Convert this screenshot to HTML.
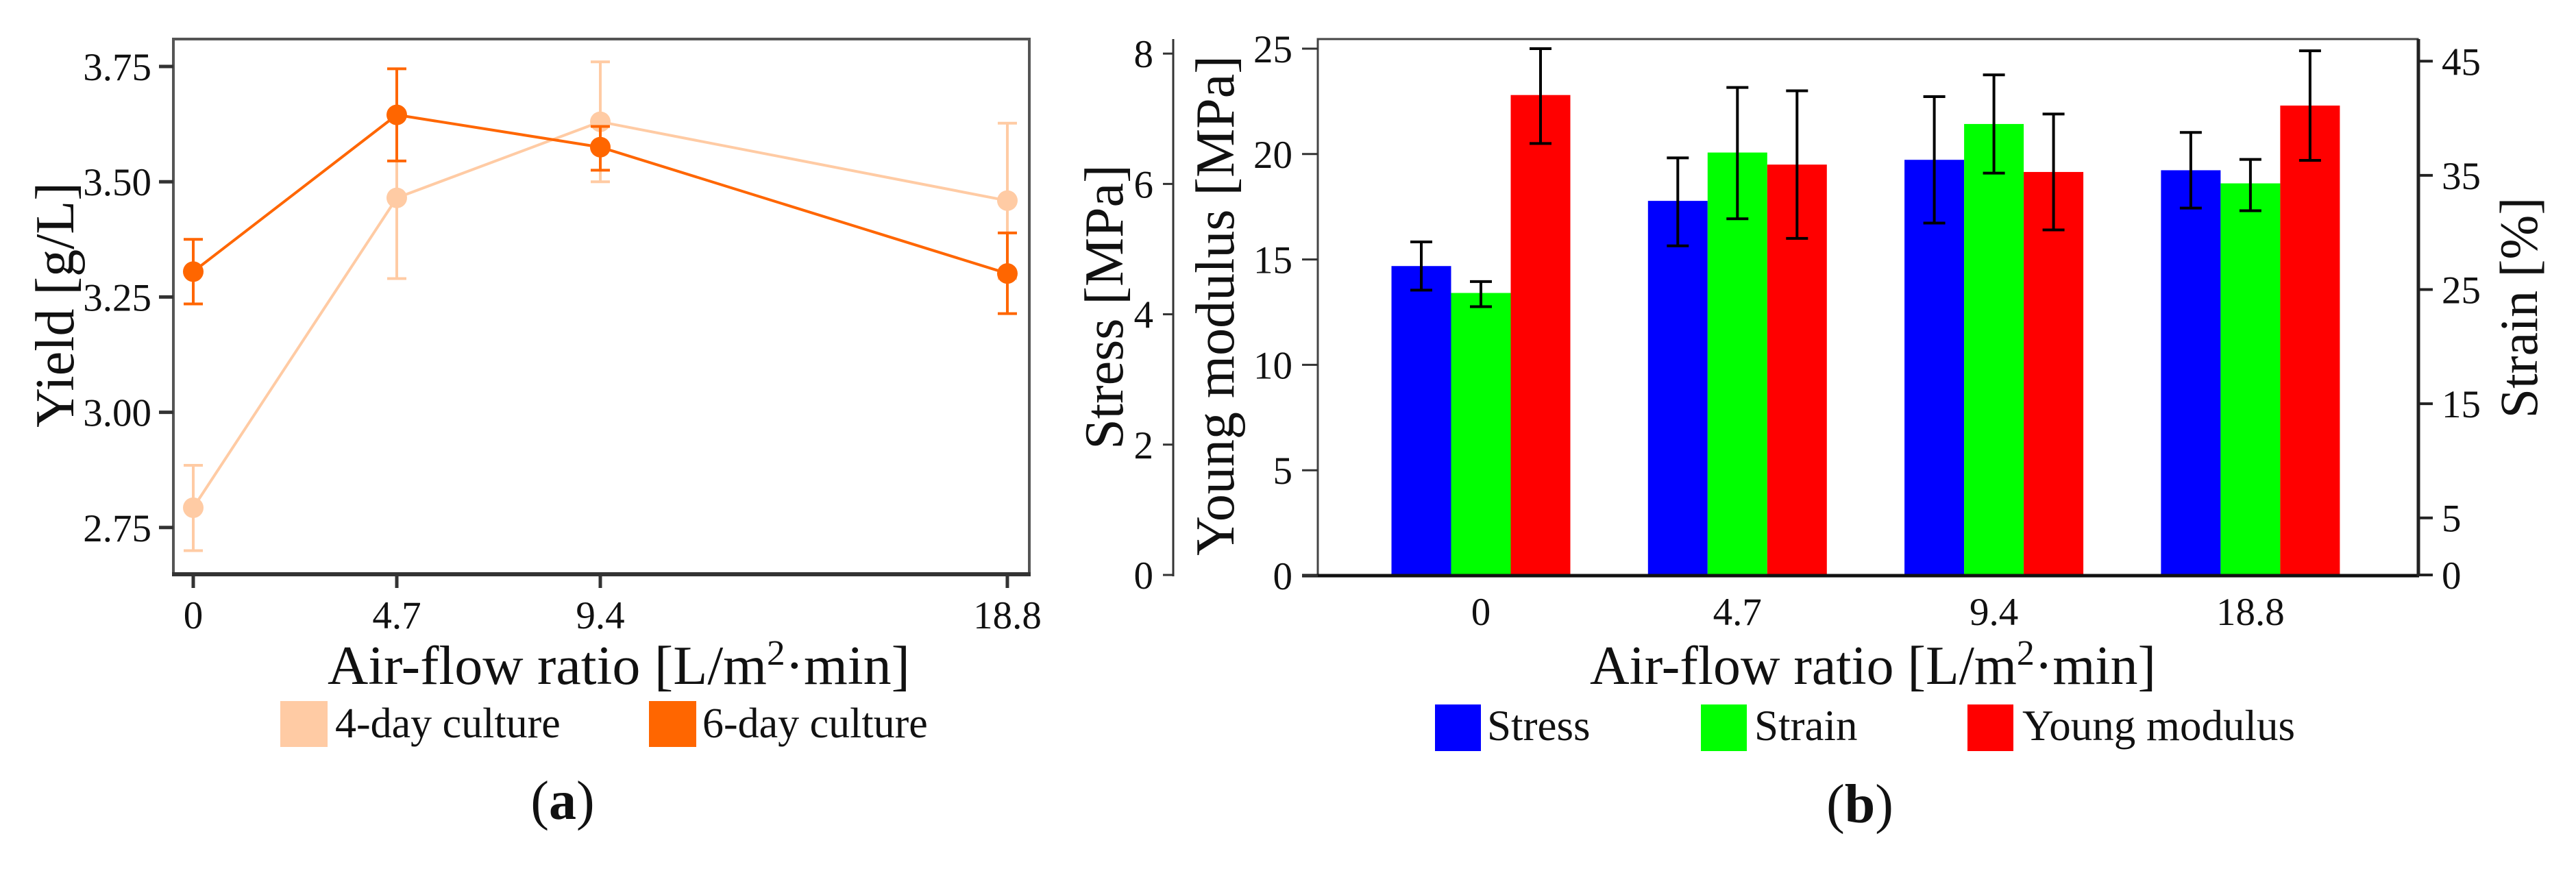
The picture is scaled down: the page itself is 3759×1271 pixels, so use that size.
<!DOCTYPE html>
<html><head><meta charset="utf-8"><style>
html,body{margin:0;padding:0;background:#fff;}
svg{display:block;font-family:"Liberation Serif",serif;}
</style></head><body>
<svg id="fig" width="3759" height="1271" viewBox="0 0 3759 1271" xmlns="http://www.w3.org/2000/svg">
<rect width="3759" height="1271" fill="#fff"/>
<g id="pa"></g>
<g id="pb"></g>
</svg>
<script>
// ---- Panel (a) data ----
const aCats = [0, 4.7, 9.4, 18.8];
const aTickLabels = ["0", "4.7", "9.4", "18.8"];
const aYTicks = [2.75, 3.00, 3.25, 3.50, 3.75];
const yield4 = [2.793, 3.465, 3.630, 3.459];
const yield4Lo = [2.700, 3.290, 3.500, 3.290];
const yield4Hi = [2.885, 3.640, 3.760, 3.627];
const yield6 = [3.305, 3.645, 3.575, 3.301];
const yield6Lo = [3.235, 3.545, 3.525, 3.214];
const yield6Hi = [3.375, 3.745, 3.620, 3.389];

// ---- Panel (b) data ----
const bCats = ["0", "4.7", "9.4", "18.8"];
const stressVals = [4.74, 5.74, 6.37, 6.21];
const stressLo = [4.37, 5.05, 5.40, 5.63];
const stressHi = [5.11, 6.40, 7.34, 6.79];
const strainVals = [24.7, 37.0, 39.5, 34.3];
const strainLo = [23.5, 31.2, 35.2, 31.9];
const strainHi = [25.7, 42.7, 43.8, 36.4];
const ymVals = [22.8, 19.5, 19.15, 22.3];
const ymLo = [20.5, 16.0, 16.4, 19.7];
const ymHi = [25.0, 23.0, 21.9, 24.9];
const stressTicks = [0, 2, 4, 6, 8];
const ymTicks = [0, 5, 10, 15, 20, 25];
const strainTicks = [0, 5, 15, 25, 35, 45];

const NS = "http://www.w3.org/2000/svg";
function mk(parent, tag, attrs, text) {
  const e = document.createElementNS(NS, tag);
  for (const k in attrs) e.setAttribute(k, attrs[k]);
  if (text !== undefined) e.textContent = text;
  parent.appendChild(e);
  return e;
}

// ===== Panel A =====
const pa = document.getElementById("pa");
const ax = v => 282 + v * 63.19;
const ay = v => 97 + (3.75 - v) * 672.8;
let e;
e = mk(pa, "rect", {x:253, y:57, width:1249, height:781, fill:"none", stroke:"#555", "stroke-width":4});


e = mk(pa, "line", {x1:251, y1:838, x2:1504, y2:838, stroke:"#333", "stroke-width":6});


aYTicks.forEach(t => {
  const y = ay(t);
  e = mk(pa, "line", {x1:232, y1:y, x2:253, y2:y, stroke:"#333", "stroke-width":5});
  
  
  e = mk(pa, "text", {x:221, y:y + 20, "text-anchor":"end", "font-size":57, fill:"#111"}, t.toFixed(2));
  
  
});
aCats.forEach((c, i) => {
  const x = ax(c);
  e = mk(pa, "line", {x1:x, y1:838, x2:x, y2:858, stroke:"#333", "stroke-width":5});
  
  
  e = mk(pa, "text", {x:x, y:917, "text-anchor":"middle", "font-size":57, fill:"#111"}, aTickLabels[i]);
  
  
});
e = mk(pa, "text", {x:0, y:0, "text-anchor":"middle", "font-size":80, fill:"#111", transform:"translate(107,445) rotate(-90)"}, "Yield [g/L]");


e = mk(pa, "text", {x:903, y:998, "text-anchor":"middle", "font-size":80, fill:"#111", textLength:850, lengthAdjust:"spacingAndGlyphs"});


e.innerHTML = 'Air-flow ratio [L/m<tspan dy="-28" font-size="52">2</tspan><tspan dy="28">·min]</tspan>';

function series(data, lo, hi, color, name) {
  const g = mk(pa, "g", {});
  
  
  const pts = aCats.map((c, i) => ax(c) + "," + ay(data[i])).join(" ");
  e = mk(g, "polyline", {points:pts, fill:"none", stroke:color, "stroke-width":4});
  
  
  aCats.forEach((c, i) => {
    const x = ax(c);
    e = mk(g, "path", {d:`M${x},${ay(lo[i])}V${ay(hi[i])}M${x-14},${ay(lo[i])}H${x+14}M${x-14},${ay(hi[i])}H${x+14}`, stroke:color, "stroke-width":4, fill:"none"});
    
    
    e = mk(g, "circle", {cx:x, cy:ay(data[i]), r:15, fill:color});
    
    
  });
}
series(yield4, yield4Lo, yield4Hi, "#FFCBA4", "series-4-day");
series(yield6, yield6Lo, yield6Hi, "#FF6600", "series-6-day");

e = mk(pa, "rect", {x:409, y:1023, width:69, height:67, fill:"#FFCBA4"});


e = mk(pa, "text", {x:489, y:1076, "font-size":62, fill:"#111"}, "4-day culture");


e = mk(pa, "rect", {x:947, y:1023, width:69, height:67, fill:"#FF6600"});


e = mk(pa, "text", {x:1025, y:1076, "font-size":62, fill:"#111"}, "6-day culture");


e = mk(pa, "text", {x:821, y:1195, "text-anchor":"middle", "font-size":80, fill:"#111"});


e.innerHTML = '(<tspan font-weight="bold">a</tspan>)';

// ===== Panel B =====
const pb = document.getElementById("pb");
const Y0 = 840;
const yYM = v => Y0 - v * 30.76;
const yStress = v => 839 - v * 95.1;
const yStrain = v => 839 - v * 16.66;
const gx = i => 2161 + i * 374.3;
const BW = 87;

e = mk(pb, "rect", {x:1923, y:57, width:1605, height:783, fill:"none", stroke:"#444", "stroke-width":3});



const groups = [
  {vals:stressVals, lo:stressLo, hi:stressHi, sc:yStress, color:"#0000FF", name:"bar-stress"},
  {vals:strainVals, lo:strainLo, hi:strainHi, sc:yStrain, color:"#00FF00", name:"bar-strain"},
  {vals:ymVals, lo:ymLo, hi:ymHi, sc:yYM, color:"#FF0000", name:"bar-young-modulus"}
];
bCats.forEach((c, i) => {
  groups.forEach((s, k) => {
    const x0 = gx(i) - 1.5 * BW + k * BW;
    const top = s.sc(s.vals[i]);
    e = mk(pb, "rect", {x:x0, y:top, width:BW, height:Y0 - top, fill:s.color});
    
    
  });
  groups.forEach((s, k) => {
    const cx = gx(i) - 1.5 * BW + k * BW + BW / 2;
    const a = s.sc(s.lo[i]), b = s.sc(s.hi[i]);
    e = mk(pb, "path", {d:`M${cx},${a}V${b}M${cx-16},${a}H${cx+16}M${cx-16},${b}H${cx+16}`, stroke:"#000", "stroke-width":4, fill:"none"});
    
    
  });
  e = mk(pb, "text", {x:gx(i), y:912, "text-anchor":"middle", "font-size":57, fill:"#111"}, c);
  
  
});
e = mk(pb, "line", {x1:1900, y1:Y0, x2:3530, y2:Y0, stroke:"#111", "stroke-width":5});



// Young modulus axis (left inner)
ymTicks.forEach(t => {
  const y = yYM(t);
  e = mk(pb, "line", {x1:1900, y1:y, x2:1923, y2:y, stroke:"#333", "stroke-width":3});
  
  
  e = mk(pb, "text", {x:1886, y:y + 20, "text-anchor":"end", "font-size":57, fill:"#111"}, String(t));
  
  
});
// Stress axis (left outer)
e = mk(pb, "line", {x1:1712, y1:57, x2:1712, y2:841, stroke:"#333", "stroke-width":3});


stressTicks.forEach(t => {
  const y = yStress(t);
  e = mk(pb, "line", {x1:1697, y1:y, x2:1712, y2:y, stroke:"#333", "stroke-width":3});
  
  
  e = mk(pb, "text", {x:1683, y:y + 20, "text-anchor":"end", "font-size":57, fill:"#111"}, String(t));
  
  
});
// Strain axis (right)
e = mk(pb, "line", {x1:3529, y1:57, x2:3529, y2:841, stroke:"#222", "stroke-width":5});


strainTicks.forEach(t => {
  const y = yStrain(t);
  e = mk(pb, "line", {x1:3529, y1:y, x2:3550, y2:y, stroke:"#222", "stroke-width":4});
  
  
  e = mk(pb, "text", {x:3563, y:y + 20, "font-size":57, fill:"#111"}, String(t));
  
  
});
e = mk(pb, "text", {x:0, y:0, "text-anchor":"middle", "font-size":80, fill:"#111", transform:"translate(1638,448) rotate(-90)"}, "Stress [MPa]");


e = mk(pb, "text", {x:0, y:0, "text-anchor":"middle", "font-size":80, fill:"#111", transform:"translate(1800,446) rotate(-90)"}, "Young modulus [MPa]");


e = mk(pb, "text", {x:0, y:0, "text-anchor":"middle", "font-size":78, fill:"#111", transform:"translate(3702,449) rotate(-90)"}, "Strain [%]");


e = mk(pb, "text", {x:2733, y:998, "text-anchor":"middle", "font-size":80, fill:"#111", textLength:826, lengthAdjust:"spacingAndGlyphs"});


e.innerHTML = 'Air-flow ratio [L/m<tspan dy="-28" font-size="52">2</tspan><tspan dy="28">·min]</tspan>';

const legB = [
  {x:2094, tx:2170, color:"#0000FF", label:"Stress", name:"stress"},
  {x:2482, tx:2560, color:"#00FF00", label:"Strain", name:"strain"},
  {x:2871, tx:2951, color:"#FF0000", label:"Young modulus", name:"young-modulus"}
];
legB.forEach(l => {
  e = mk(pb, "rect", {x:l.x, y:1028, width:67, height:68, fill:l.color});
  
  
  e = mk(pb, "text", {x:l.tx, y:1080, "font-size":63, fill:"#111"}, l.label);
  
  
});
e = mk(pb, "text", {x:2714, y:1200, "text-anchor":"middle", "font-size":80, fill:"#111"});


e.innerHTML = '(<tspan font-weight="bold">b</tspan>)';
</script>
</body></html>
